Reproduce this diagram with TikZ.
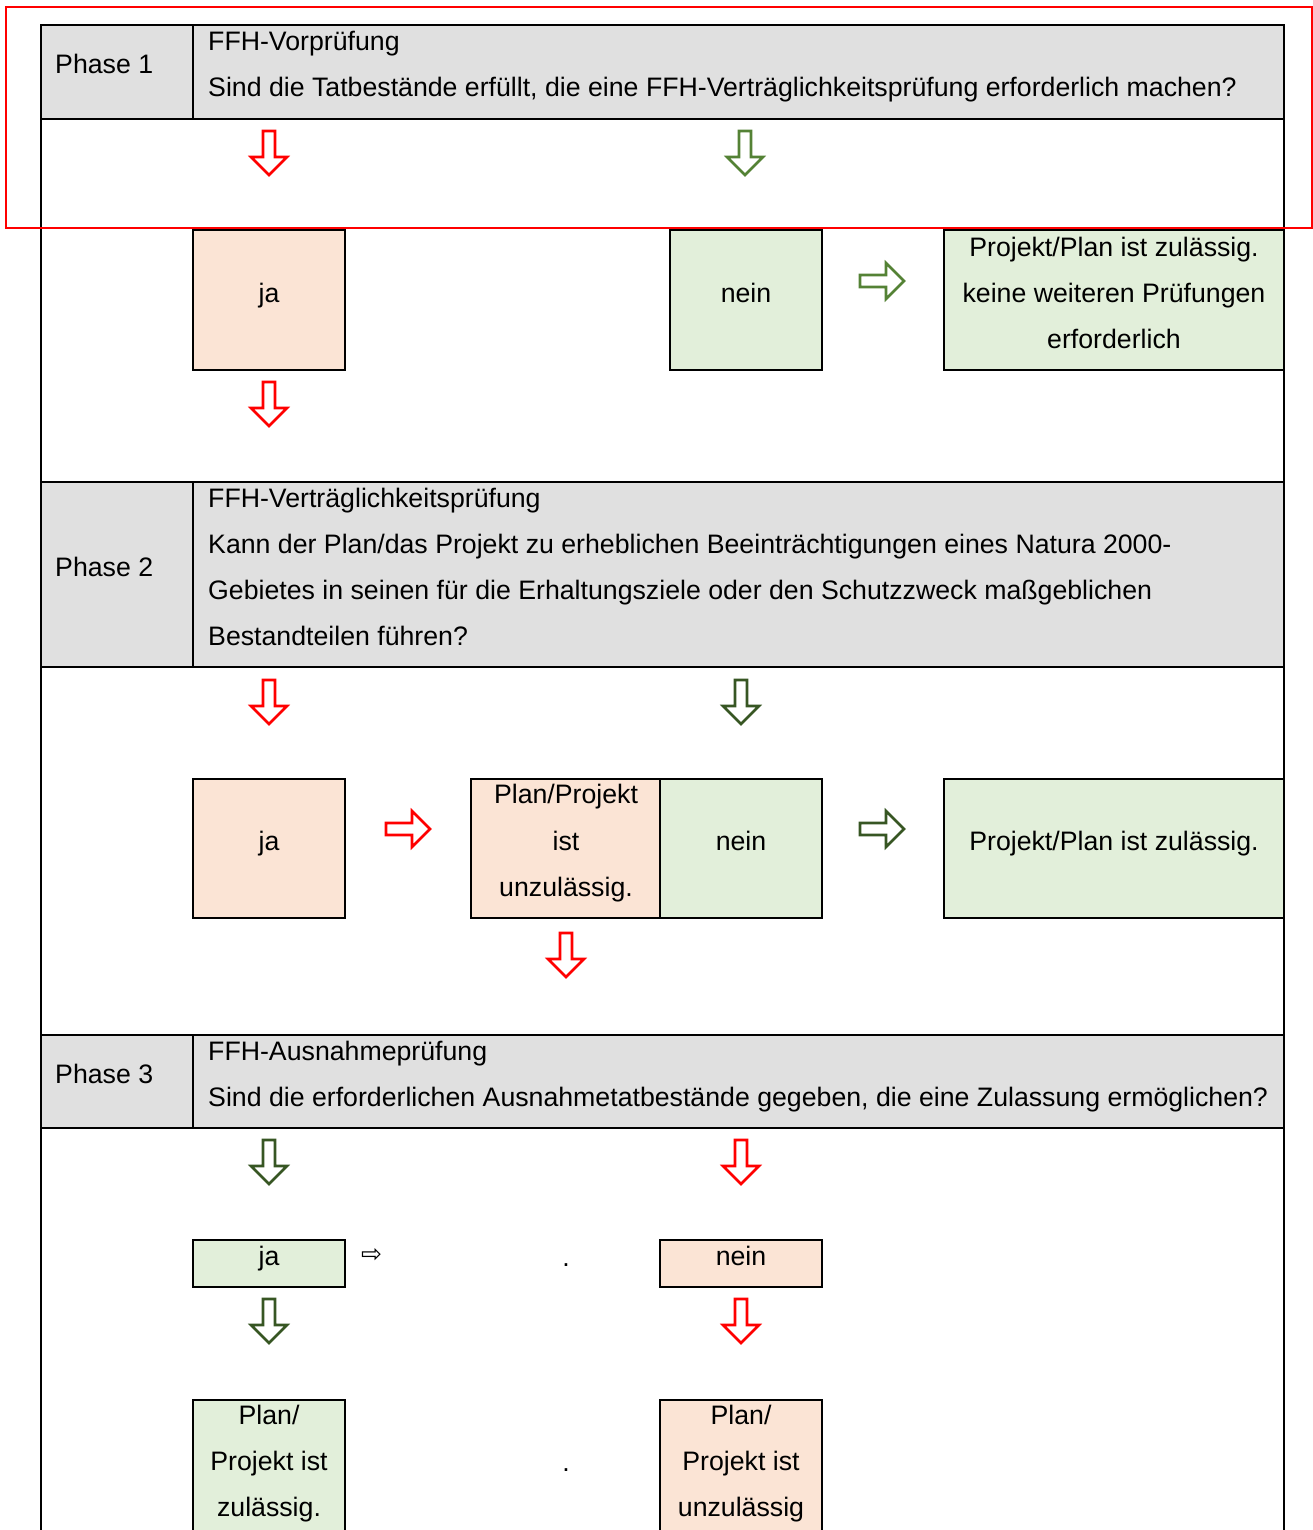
\documentclass[tikz,border=0pt]{standalone}
\usepackage{fontspec}
\setmainfont{Liberation Sans}
\newfontfamily\dejavu{DejaVu Sans}
\definecolor{hdrgray}{HTML}{E0E0E0}
\definecolor{peach}{HTML}{FBE4D5}
\definecolor{lgreen}{HTML}{E2EFDA}
\definecolor{gA}{HTML}{548235}
\definecolor{gB}{HTML}{375623}
\begin{document}
\begin{tikzpicture}[x=1pt,y=-1pt,
  txt/.style={inner sep=0pt,anchor=base west,font=\fontsize{26.7}{30}\selectfont},
  ctxt/.style={inner sep=0pt,anchor=base,font=\fontsize{26.7}{30}\selectfont},
  tline/.style={line width=2pt,black},
  boxpeach/.style={draw=black,line width=2pt,fill=peach,inner sep=0pt},
  boxgreen/.style={draw=black,line width=2pt,fill=lgreen,inner sep=0pt},
  darrow/.pic={\draw[line width=2.6pt,pic actions,line join=miter] (-6,-22) -- (6,-22) -- (6,4) -- (18,4) -- (0,22) -- (-18,4) -- (-6,4) -- cycle;},
  rarrow/.pic={\draw[line width=2.6pt,pic actions,line join=miter] (-22,-6) -- (4,-6) -- (4,-18) -- (22,0) -- (4,18) -- (4,6) -- (-22,6) -- cycle;}
]
\useasboundingbox (0,0) rectangle (1313,1530);
\begin{scope}
\clip (0,0) rectangle (1313,1530);
% header fills
\fill[hdrgray] (41,25) rectangle (1284,119);
\fill[hdrgray] (41,482) rectangle (1284,667);
\fill[hdrgray] (41,1035) rectangle (1284,1128);
% table lines
\draw[tline] (41,25) -- (41,1545);
\draw[tline] (1284,25) -- (1284,1545);
\foreach \yy in {25,119,482,667,1035,1128} {\draw[tline] (40,\yy) -- (1285,\yy);}
\draw[tline] (193,25) -- (193,119);
\draw[tline] (193,482) -- (193,667);
\draw[tline] (193,1035) -- (193,1128);
% header texts
\node[txt] (ph1) at (55,74) {Phase 1};
\node[txt] (h1a) at (208,51) {FFH-Vorprüfung};
\node[txt] (h1b) at (208,97) {Sind die Tatbestände erfüllt, die eine FFH-Verträglichkeitsprüfung erforderlich machen?};
\node[txt] (ph2) at (55,576) {Phase 2};
\node[txt] (h2a) at (208,507) {FFH-Verträglichkeitsprüfung};
\node[txt] (h2b) at (208,553) {Kann der Plan/das Projekt zu erheblichen Beeinträchtigungen eines Natura 2000-};
\node[txt] (h2c) at (208,599) {Gebietes in seinen für die Erhaltungsziele oder den Schutzzweck maßgeblichen};
\node[txt] (h2d) at (208,645) {Bestandteilen führen?};
\node[txt] (ph3) at (55,1083) {Phase 3};
\node[txt] (h3a) at (208,1060) {FFH-Ausnahmeprüfung};
\node[txt] (h3b) at (208,1106) {Sind die erforderlichen Ausnahmetatbestände gegeben, die eine Zulassung ermöglichen?};
% Phase 1 body
\node[boxpeach,minimum width=152,minimum height=140] (ja1) at (269,300) {};
\node[boxgreen,minimum width=152,minimum height=140] (nein1) at (746,300) {};
\node[boxgreen,minimum width=340,minimum height=140] (ok1) at (1114,300) {};
\node[ctxt] (ja1t) at (269,302) {ja};
\node[ctxt] (nein1t) at (746,302) {nein};
\node[ctxt] (ok1a) at (1114,256) {Projekt/Plan ist zulässig.};
\node[ctxt] (ok1b) at (1114,302) {keine weiteren Prüfungen};
\node[ctxt] (ok1c) at (1114,348) {erforderlich};
\pic[draw=red] at (269,153) {darrow};
\pic[draw=gA] at (745,153) {darrow};
\pic[draw=gA] at (882,281) {rarrow};
\pic[draw=red] at (269,404) {darrow};
% Phase 2 body
\node[boxpeach,minimum width=152,minimum height=139] (ja2) at (269,848.5) {};
\node[boxpeach,minimum width=189,minimum height=139] (nz2) at (565.5,848.5) {};
\node[boxgreen,minimum width=162,minimum height=139] (nein2) at (741,848.5) {};
\node[boxgreen,minimum width=340,minimum height=139] (ok2) at (1114,848.5) {};
\node[ctxt] (ja2t) at (269,850) {ja};
\node[ctxt] (nz2a) at (566,803) {Plan/Projekt};
\node[ctxt] (nz2b) at (566,850) {ist};
\node[ctxt] (nz2c) at (566,896) {unzulässig.};
\node[ctxt] (nein2t) at (741,850) {nein};
\node[ctxt] (ok2t) at (1114,850) {Projekt/Plan ist zulässig.};
\pic[draw=red] at (269,702) {darrow};
\pic[draw=gB] at (741,702) {darrow};
\pic[draw=red] at (408,829) {rarrow};
\pic[draw=gB] at (882,829) {rarrow};
\pic[draw=red] at (566,955) {darrow};
% Phase 3 body
\pic[draw=gB] at (269,1162) {darrow};
\pic[draw=red] at (741,1162) {darrow};
\node[boxgreen,minimum width=152,minimum height=47] (ja3) at (269,1263.5) {};
\node[boxpeach,minimum width=162,minimum height=47] (nein3) at (741,1263.5) {};
\node[ctxt] (ja3t) at (269,1265) {ja};
\node[ctxt] (nein3t) at (741,1265) {nein};
\node[inner sep=0pt,font=\dejavu\fontsize{25}{27}\selectfont] (sm3) at (371.5,1255) {⇨};
\node[ctxt] (dot3a) at (566,1266) {.};
\pic[draw=gB] at (269,1321) {darrow};
\pic[draw=red] at (741,1321) {darrow};
\node[boxgreen,minimum width=152,minimum height=170,anchor=north] (ok3) at (269,1399) {};
\node[boxpeach,minimum width=162,minimum height=170,anchor=north] (nz3) at (741,1399) {};
\node[ctxt] (ok3a) at (269,1424) {Plan/};
\node[ctxt] (ok3b) at (269,1470) {Projekt ist};
\node[ctxt] (ok3c) at (269,1516) {zulässig.};
\node[ctxt] (nz3a) at (741,1424) {Plan/};
\node[ctxt] (nz3b) at (741,1470) {Projekt ist};
\node[ctxt] (nz3c) at (741,1516) {unzulässig};
\node[ctxt] (dot3b) at (566,1471) {.};
% red outline
\draw[red,line width=1.6pt] (6,7) rectangle (1312,228);
\end{scope}
\end{tikzpicture}
\end{document}
